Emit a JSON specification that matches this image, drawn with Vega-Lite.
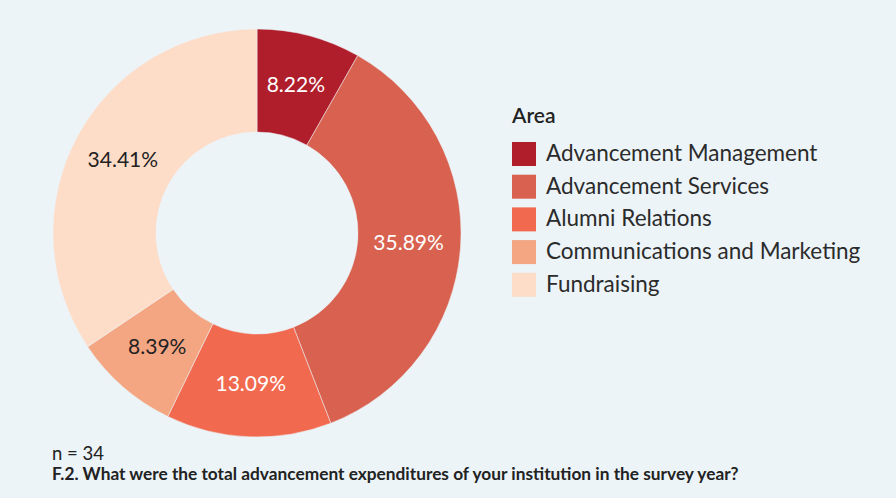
{
  "$schema": "https://vega.github.io/schema/vega-lite/v6.json",
  "width": 410,
  "height": 410,
  "autosize": {"type": "none"},
  "padding": {"left": 52, "top": 28, "right": 434, "bottom": 60},
  "background": "#ecf4f8",
  "config": {
    "view": {"stroke": null},
    "font": "Lato"
  },
  "title": {
    "text": "n = 34",
    "subtitle": "F.2. What were the total advancement expenditures of your institution in the survey year?",
    "orient": "bottom",
    "anchor": "start",
    "frame": "group",
    "offset": 7,
    "font": "Lato",
    "fontSize": 18.5,
    "fontWeight": "normal",
    "color": "#222222",
    "subtitleFont": "Lato",
    "subtitleFontSize": 17.3,
    "subtitleFontWeight": "bold",
    "subtitleColor": "#222222",
    "subtitlePadding": 2
  },
  "data": {
    "values": [
      {"Area": "Advancement Management", "share": 0.0822},
      {"Area": "Advancement Services", "share": 0.3589},
      {"Area": "Alumni Relations", "share": 0.1309},
      {"Area": "Communications and Marketing", "share": 0.0839},
      {"Area": "Fundraising", "share": 0.3441}
    ]
  },
  "encoding": {
    "theta": {"field": "share", "type": "quantitative", "stack": true},
    "order": {"field": "Area", "type": "nominal"}
  },
  "layer": [
    {
      "mark": {"type": "arc", "outerRadius": 204, "innerRadius": 101, "stroke": "#ecf4f8", "strokeWidth": 0.5},
      "encoding": {
        "color": {
          "field": "Area",
          "type": "nominal",
          "scale": {
            "domain": ["Advancement Management", "Advancement Services", "Alumni Relations", "Communications and Marketing", "Fundraising"],
            "range": ["#b01e2c", "#d9614f", "#f16a4f", "#f4a582", "#fddcc8"]
          },
          "legend": {
            "title": "Area",
            "orient": "none",
            "legendX": 460,
            "legendY": 78,
            "symbolType": "square",
            "symbolSize": 576,
            "symbolStrokeWidth": 0,
            "labelFont": "Lato",
            "labelFontSize": 22.5,
            "labelColor": "#2b2b2b",
            "labelOffset": 10,
            "labelLimit": 400,
            "rowPadding": 8.7,
            "titleFont": "Lato",
            "titleFontSize": 21,
            "titleFontWeight": 600,
            "titleColor": "#222222",
            "titlePadding": 15
          }
        }
      }
    },
    {
      "mark": {"type": "text", "radius": 152, "font": "Lato", "fontSize": 21},
      "encoding": {
        "text": {"field": "share", "type": "quantitative", "format": ".2%"},
        "color": {
          "condition": {"test": "datum.Area === 'Communications and Marketing' || datum.Area === 'Fundraising'", "value": "#222222"},
          "value": "#ffffff"
        }
      }
    }
  ]
}
